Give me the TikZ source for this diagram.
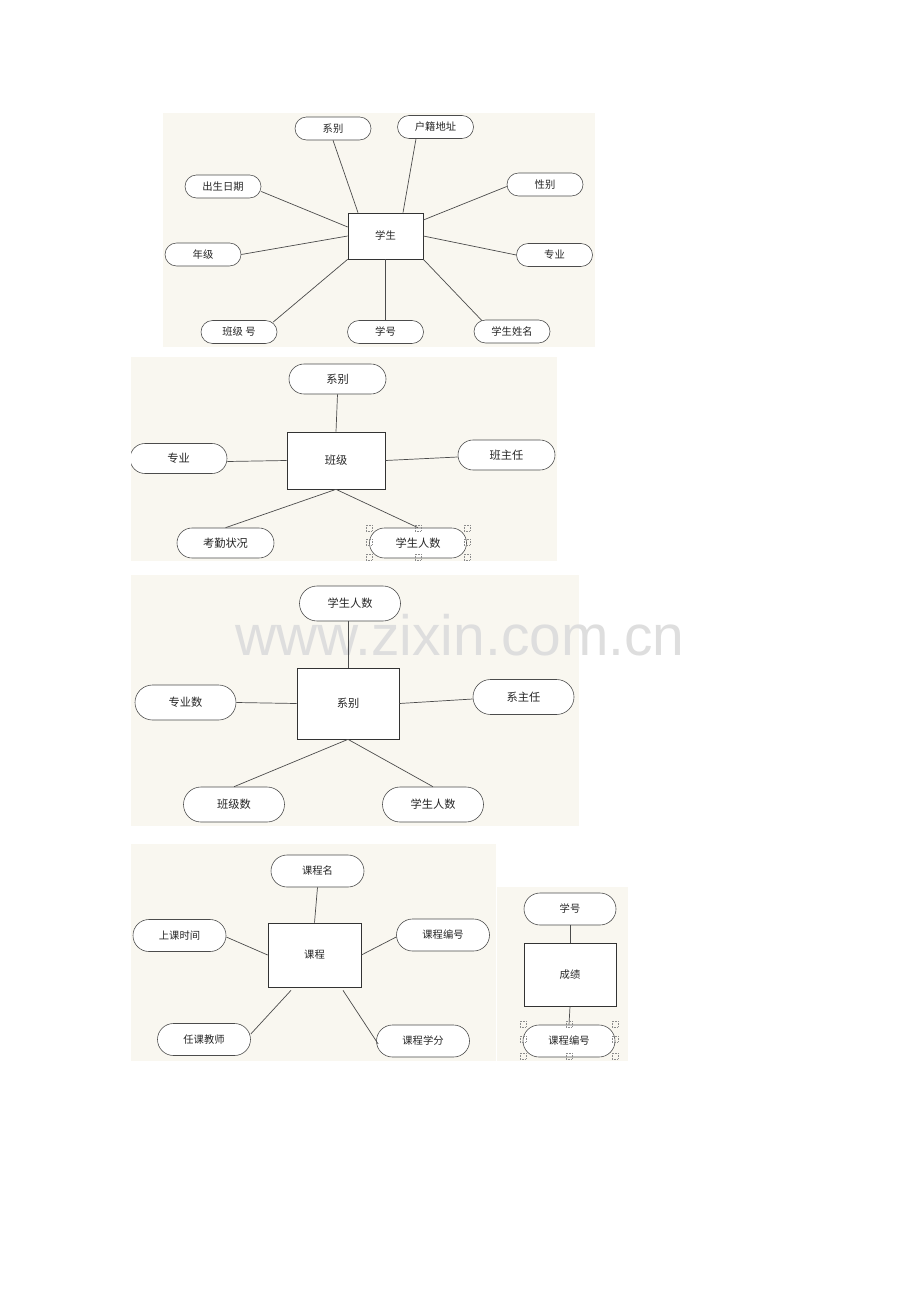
\documentclass[tikz,border=0pt]{standalone}
\usepackage{fontspec}
\newfontfamily\cjk{Noto Sans CJK SC}
\newfontfamily\wmfont{Liberation Sans}
\usetikzlibrary{shapes.misc}
\definecolor{paper}{RGB}{249,247,240}
\newcommand{\px}{0.3mm}
\tikzset{
	attr/.style={rounded rectangle, draw=black!70, fill=white, line width=0.5pt, inner sep=0pt, text=black!85},
	ent/.style={rectangle, draw=black!80, fill=white, line width=0.6pt, inner sep=0pt, text=black!85},
	link/.style={draw=black!70, line width=0.6pt},
	grip/.style={draw=black!45, densely dotted, line width=0.4pt, minimum size=6*\px, inner sep=0pt},
}
\begin{document}
\begin{tikzpicture}[x=\px, y=-\px]
\useasboundingbox (0,0) rectangle (920,1302);

% student
\fill[paper] (163,113) rectangle (595,347);
\begin{scope}[every node/.append style={font=\cjk\fontsize{8.8}{10}\selectfont},
	attr/.append style={minimum width=76*\px, minimum height=23*\px}]
	\node[ent, minimum width=75*\px, minimum height=46*\px] (xs) at (385.5,236) {学生};
	\node[attr] (xb1) at (333,128.5) {系别};
	\node[attr] (hj) at (435.5,127) {户籍地址};
	\node[attr] (csrq) at (223,186.5) {出生日期};
	\node[attr] (xb) at (545,184.5) {性别};
	\node[attr] (nj) at (203,254.5) {年级};
	\node[attr] (zy1) at (554.5,255) {专业};
	\node[attr] (bjh) at (239,332) {班级 号};
	\node[attr] (xh1) at (385.5,332) {学号};
	\node[attr] (xsxm) at (512,331.5) {学生姓名};

	\draw[link] (xb1.south) -- ([shift={(-27.5,0)}]xs.north);
	\draw[link] ([shift={(-19.5,0)}]hj.south) -- ([shift={(17.5,0)}]xs.north);
	\draw[link] ([shift={(0,5)}]csrq.east) -- ([shift={(0,-9)}]xs.west);
	\draw[link] (nj.east) -- (xs.west);
	\draw[link] ([shift={(0,2)}]xb.west) -- ([shift={(0,-16)}]xs.east);
	\draw[link] (zy1.west) -- (xs.east);
	\draw[link] ([shift={(34,2)}]bjh.north) -- (xs.south west);
	\draw[link] (xh1.north) -- (xs.south);
	\draw[link] ([shift={(-30,1)}]xsxm.north) -- (xs.south east);
\end{scope}

% class
\fill[paper] (131,357) rectangle (557,561);
\begin{scope}[every node/.append style={font=\cjk\fontsize{9.6}{11}\selectfont},
	attr/.append style={minimum width=97*\px, minimum height=30*\px}]
	\node[ent, minimum width=98*\px, minimum height=57*\px] (bj) at (336,460.5) {班级};
	\node[attr] (xb2) at (337.5,379) {系别};
	\begin{scope}
		\clip (131,357) rectangle (557,561);
		\node[attr] (zy2) at (178.5,458.5) {专业};
	\end{scope}
	\node[attr] (bzr) at (506.5,455) {班主任};
	\node[attr] (kq) at (225.5,543) {考勤状况};
	\node[attr] (rs2) at (418,543) {学生人数};

	\draw[link] (xb2.south) -- (bj.north);
	\draw[link] ([shift={(0,3)}]zy2.east) -- (bj.west);
	\draw[link] (bj.east) -- ([shift={(0,2)}]bzr.west);
	\draw[link] (bj.south) -- (kq.north);
	\draw[link] (bj.south) -- (rs2.north);
	\foreach \dx/\dy in {-49/-15,0/-15,49/-15,-49/-1,49/-1,-49/14,0/14,49/14}
		\node[grip] at ([shift={(\dx,\dy)}]rs2.center) {};
\end{scope}

% department
\fill[paper] (131,575) rectangle (579,826);
\node[font=\wmfont\fontsize{48.6}{50}\selectfont, text=black!13, anchor=base, inner sep=0pt] (wm) at (460,655) {www.zixin.com.cn};
\begin{scope}[every node/.append style={font=\cjk\fontsize{9.6}{11}\selectfont},
	attr/.append style={minimum width=101*\px, minimum height=35*\px}]
	\node[ent, minimum width=102*\px, minimum height=71*\px] (xb3) at (348,703.5) {系别};
	\node[attr] (rs3a) at (350,603.5) {学生人数};
	\node[attr] (zys) at (185.5,702.5) {专业数};
	\node[attr] (xzr) at (523.5,697) {系主任};
	\node[attr] (bjs) at (234,804.5) {班级数};
	\node[attr] (rs3b) at (433,804.5) {学生人数};

	\draw[link] ([shift={(-2,0)}]rs3a.south) -- (xb3.north);
	\draw[link] (zys.east) -- (xb3.west);
	\draw[link] (xb3.east) -- ([shift={(0,2)}]xzr.west);
	\draw[link] (xb3.south) -- (bjs.north);
	\draw[link] (xb3.south) -- (rs3b.north);
\end{scope}

% course
\fill[paper] (131,844) rectangle (496,1061);
\begin{scope}[every node/.append style={font=\cjk\fontsize{8.8}{10}\selectfont},
	attr/.append style={minimum width=93*\px, minimum height=32*\px}]
	\node[ent, minimum width=93*\px, minimum height=64*\px] (kc) at (314.5,955) {课程};
	\node[attr] (kcm) at (317.5,871) {课程名};
	\node[attr] (sksj) at (179.5,935.5) {上课时间};
	\node[attr] (kcbh) at (443,935) {课程编号};
	\node[attr] (rkjs) at (204,1039.5) {任课教师};
	\node[attr] (kcxf) at (423,1041) {课程学分};

	\draw[link] (kcm.south) -- (kc.north);
	\draw[link] ([shift={(0,1.5)}]sksj.east) -- (kc.west);
	\draw[link] ([shift={(0,2)}]kcbh.west) -- (kc.east);
	\draw[link] ([shift={(-23.5,3)}]kc.south) -- ([shift={(0,-5.5)}]rkjs.east);
	\draw[link] ([shift={(28.5,3)}]kc.south) -- ([shift={(2,3)}]kcxf.west);
\end{scope}

% score
\fill[paper] (497,887) rectangle (628,1061);
\begin{scope}[every node/.append style={font=\cjk\fontsize{8.8}{10}\selectfont},
	attr/.append style={minimum width=92*\px, minimum height=32*\px}]
	\node[ent, minimum width=92*\px, minimum height=63*\px] (cj) at (570,974.5) {成绩};
	\node[attr] (xh5) at (570,909) {学号};
	\node[attr] (kcbh5) at (569,1041) {课程编号};

	\draw[link] (xh5.south) -- (cj.north);
	\draw[link] (cj.south) -- (kcbh5.north);
	\foreach \dx/\dy in {-46/-17,0/-17,46/-17,-46/-2,46/-2,-46/15,0/15,46/15}
		\node[grip] at ([shift={(\dx,\dy)}]kcbh5.center) {};
\end{scope}

\end{tikzpicture}
\end{document}
